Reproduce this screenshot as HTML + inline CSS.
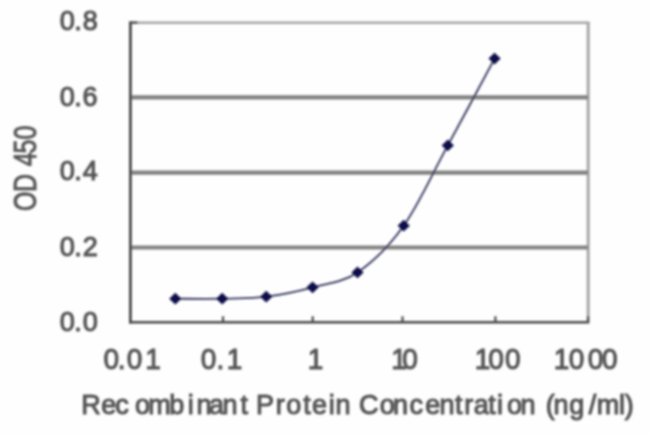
<!DOCTYPE html>
<html><head><meta charset="utf-8">
<style>
html,body{margin:0;padding:0;background:#fff;}
body{width:650px;height:434px;overflow:hidden;}
svg{display:block;}
text{font-family:"Liberation Sans",sans-serif;font-size:25px;fill:#565656;stroke:#565656;stroke-width:1.1px;stroke-linejoin:round;}
</style></head><body>
<svg width="650" height="434" viewBox="0 0 650 434">
<defs>
<filter id="b" x="-5%" y="-5%" width="110%" height="110%"><feGaussianBlur stdDeviation="0.9"/></filter>
<filter id="b2" x="-5%" y="-5%" width="110%" height="110%"><feGaussianBlur stdDeviation="0.8"/></filter>
</defs>
<rect width="650" height="434" fill="#fefefe"/>
<g filter="url(#b2)">
<line x1="131" y1="22.8" x2="589.5" y2="22.8" stroke="#a6a6a6" stroke-width="2.6"/>
<line x1="588.2" y1="22" x2="588.2" y2="322" stroke="#a6a6a6" stroke-width="3"/>
<line x1="131" y1="97.4" x2="588" y2="97.4" stroke="#828282" stroke-width="4.2"/>
<line x1="131" y1="172.6" x2="588" y2="172.6" stroke="#828282" stroke-width="4.2"/>
<line x1="131" y1="247.5" x2="588" y2="247.5" stroke="#828282" stroke-width="4.2"/>
<line x1="130.4" y1="21.5" x2="130.4" y2="323.5" stroke="#484848" stroke-width="2.8"/>
<line x1="129" y1="322.3" x2="589.3" y2="322.3" stroke="#484848" stroke-width="2.6"/>
<g stroke="#484848" stroke-width="2.2">
<line x1="223" y1="316.3" x2="223" y2="322.3"/>
<line x1="312.7" y1="316.3" x2="312.7" y2="322.3"/>
<line x1="402.5" y1="316.3" x2="402.5" y2="322.3"/>
<line x1="495.4" y1="316.3" x2="495.4" y2="322.3"/>
<line x1="588" y1="316.3" x2="588" y2="322.3"/>
<line x1="129" y1="22.6" x2="137.5" y2="22.6"/>
</g>
<path fill="none" stroke="#30305a" stroke-width="1.8" d="M175.3 298.7C183.1 298.7 207.0 299.0 222.2 298.7C237.3 298.4 251.1 298.6 266.2 296.7C281.3 294.8 297.4 291.4 312.6 287.3C327.8 283.2 342.3 282.7 357.5 272.4C372.7 262.1 388.6 246.9 403.7 225.7C418.8 204.5 432.6 173.2 447.8 145.4C463.0 117.6 486.8 73.1 494.6 58.6"/>
<g fill="#101048">
<path d="M175.3 292.8L181.4 298.7L175.3 304.6L169.2 298.7z"/>
<path d="M222.2 292.8L228.3 298.7L222.2 304.6L216.1 298.7z"/>
<path d="M266.2 290.8L272.3 296.7L266.2 302.6L260.1 296.7z"/>
<path d="M312.6 281.4L318.7 287.3L312.6 293.2L306.5 287.3z"/>
<path d="M357.5 266.5L363.6 272.4L357.5 278.3L351.4 272.4z"/>
<path d="M403.7 219.8L409.8 225.7L403.7 231.6L397.6 225.7z"/>
<path d="M447.8 139.5L453.9 145.4L447.8 151.3L441.7 145.4z"/>
<path d="M494.6 52.7L500.7 58.6L494.6 64.5L488.5 58.6z"/>
</g>
</g>
<g filter="url(#b)">
<text y="30.3" x="59.79 74.25 82.64" style="font-size:27px">0.8</text>
<text y="105.5" x="59.79 74.25 82.55" style="font-size:27px">0.6</text>
<text y="180.0" x="59.79 74.25 82.73" style="font-size:27px">0.4</text>
<text y="256.0" x="59.79 74.25 82.64" style="font-size:27px">0.2</text>
<text y="330.7" x="59.79 74.25 82.64" style="font-size:27px">0.0</text>
<text y="369.0" x="108.9 124.06 133.38 152.82" transform="scale(0.95,1)" style="font-size:29.5px">0.01</text>
<text y="369.0" x="211.27 228.01 238.61" transform="scale(0.95,1)" style="font-size:29.5px">0.1</text>
<text y="369.0" x="323.87" transform="scale(0.95,1)" style="font-size:29.5px">1</text>
<text y="369.0" x="411.76 423.38" transform="scale(0.95,1)" style="font-size:29.5px">10</text>
<text y="369.0" x="499.66 513.9 531.53" transform="scale(0.95,1)" style="font-size:29.5px">100</text>
<text y="369.0" x="582.82 598.64 618.64 633.64" transform="scale(0.95,1)" style="font-size:29.5px">1000</text>
<text y="414.0" x="81.27 101.27 115.28 134.99 148.25 169.19 187.76 196.47 208.92 222.47 240.39 248.25 256.1 275.83 286.24 303.14 312.02 328.76 335.47 347.28 359.08 379.74 392.97 409.53 425.27 439.47 454.89 464.33 473.67 488.14 497.01 506.99 520.47 533.11 545.75 553.47 569.3 588.75 596.75 618.89 624.76" style="font-size:27px">Recombinant Protein Concentration (ng/ml)</text>
<g transform="translate(35.8,0) rotate(-90) scale(1,1.26)"><text y="0" x="-211.12 -192.1 -179.21 -166.32 -153.63 -139.6" style="stroke-width:0.8px">OD 450</text></g>
</g>
</svg>
</body></html>
